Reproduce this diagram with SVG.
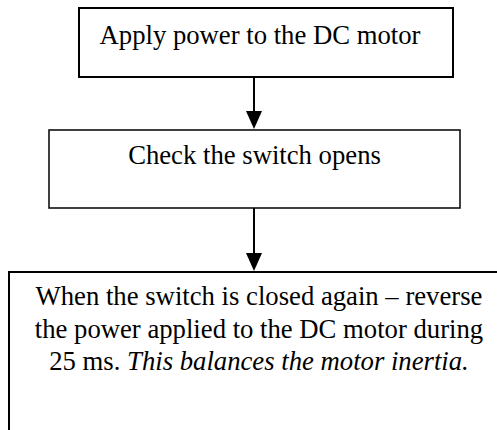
<svg xmlns="http://www.w3.org/2000/svg" width="497" height="430" viewBox="0 0 497 430">
<defs>
<style>
.box{fill:#fff;stroke:#000;stroke-width:2}
.box2{fill:#fff;stroke:#111;stroke-width:1.6}
text{font-family:'Liberation Serif','Times New Roman',serif;font-size:26.7px;fill:#000;text-anchor:middle}
.c{stroke:#000;stroke-width:2;fill:none}
</style>
</defs>
<rect width="497" height="430" fill="#fff"/>
<g id="node-apply">
<rect class="box" x="79" y="8" width="374" height="69"/>
<text x="260" y="44" font-family="Liberation Serif, serif" font-size="27">Apply power to the DC motor</text>
</g>
<g id="node-check">
<rect class="box2" x="49" y="130" width="411" height="78"/>
<text x="254.5" y="164" font-family="Liberation Serif, serif">Check the switch opens</text>
</g>
<g id="node-reverse">
<rect class="box" x="9" y="272" width="500" height="170"/>
<text x="259" y="305" font-family="Liberation Serif, serif">When the switch is closed again – reverse</text>
<text x="259" y="337.5" font-family="Liberation Serif, serif">the power applied to the DC motor during</text>
<text x="259" y="370" font-family="Liberation Serif, serif">25 ms. <tspan font-style="italic">This balances the motor inertia.</tspan></text>
</g>
<g id="connectors">
<path class="c" d="M254,77 L254,111"/>
<path d="M246,111 L262,111 L254,129 Z" fill="#000"/>
<path class="c" d="M254,208 L254,253"/>
<path d="M246,253 L262,253 L254,271 Z" fill="#000"/>
</g>
</svg>
